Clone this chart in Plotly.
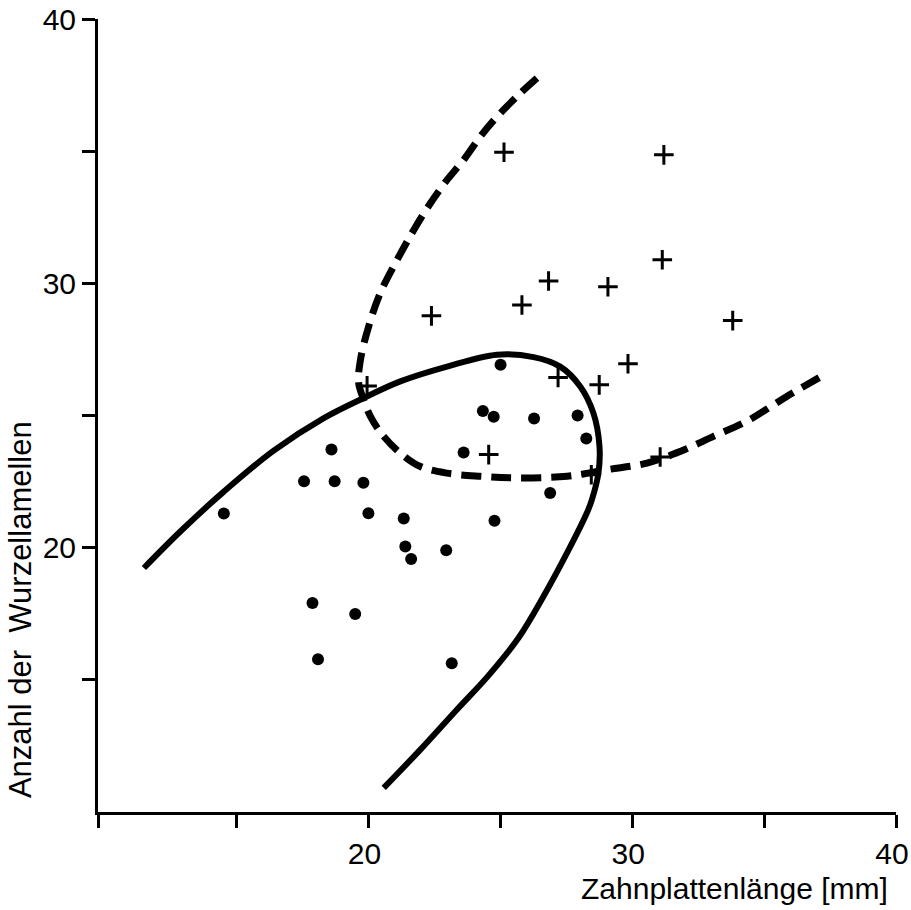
import plotly.graph_objects as go

# --- data ---
dots_x = [14.52, 18.60, 17.56, 18.72, 19.81, 20.00, 21.34, 21.40, 21.62, 22.95,
          17.88, 19.50, 18.09, 23.16, 23.61, 24.34, 24.75, 25.01, 24.78, 26.28,
          27.93, 28.26, 26.89]
dots_y = [21.29, 23.71, 22.51, 22.51, 22.46, 21.30, 21.10, 20.04, 19.57, 19.90,
          17.91, 17.49, 15.78, 15.63, 23.60, 25.17, 24.95, 26.92, 21.02, 24.89,
          25.00, 24.13, 22.07]

plus_x = [25.14, 31.20, 31.14, 26.83, 29.08, 25.82, 22.39, 33.81, 29.84, 27.19,
          28.75, 24.56, 31.06, 19.95, 28.45]
plus_y = [34.96, 34.86, 30.89, 30.09, 29.87, 29.18, 28.77, 28.59, 26.96, 26.44,
          26.16, 23.52, 23.43, 26.12, 22.76]

solid_x = [11.49, 12.88, 14.52, 16.41, 18.31, 19.82, 21.21, 22.98, 24.87, 26.26,
           27.27, 28.03, 28.53, 28.76, 28.72, 28.47, 28.28, 27.53, 26.64, 25.70,
           24.55, 23.36, 21.97, 20.58]
solid_y = [19.23, 20.62, 22.12, 23.67, 24.90, 25.66, 26.29, 26.85, 27.30, 27.21,
           26.85, 26.10, 25.09, 23.83, 22.82, 21.81, 21.31, 19.80, 18.16, 16.60,
           15.16, 13.88, 12.36, 10.91]

dash_x = [26.39, 25.76, 24.88, 24.24, 23.61, 22.98, 22.35, 21.72, 21.09, 20.45,
          20.01, 19.70, 19.63, 19.82, 20.08, 20.58, 21.21, 21.97, 22.98, 24.24,
          25.50, 27.53, 29.04, 30.56, 31.82, 33.08, 34.34, 35.86, 37.38]
dash_y = [37.76, 37.19, 36.31, 35.55, 34.67, 33.91, 33.03, 32.02, 30.89, 29.63,
          28.37, 27.11, 26.23, 25.60, 24.96, 24.21, 23.58, 23.07, 22.82, 22.70,
          22.64, 22.70, 22.95, 23.20, 23.64, 24.21, 24.78, 25.72, 26.60]

x_tickvals = [9.75, 15, 20, 25, 30, 35, 40]
x_ticktext = ["", "", "20", "", "30", "", "40"]
y_tickvals = [15, 20, 25, 30, 35, 40]
y_ticktext = ["", "20", "", "30", "", "40"]

x_title = "Zahnplattenlänge [mm]"
y_title = "Anzahl der  Wurzellamellen"

fig = go.Figure()
fig.add_trace(go.Scatter(x=solid_x, y=solid_y, mode="lines",
                         line=dict(color="black", width=6, shape="spline", smoothing=1.0),
                         hoverinfo="skip", showlegend=False))
fig.add_trace(go.Scatter(x=dash_x, y=dash_y, mode="lines",
                         line=dict(color="black", width=7, dash="20px,10px",
                                   shape="spline", smoothing=1.0),
                         hoverinfo="skip", showlegend=False))
fig.add_trace(go.Scatter(x=dots_x, y=dots_y, mode="markers",
                         marker=dict(symbol="circle", size=12, color="black"),
                         showlegend=False))
fig.add_trace(go.Scatter(x=plus_x, y=plus_y, mode="markers",
                         marker=dict(symbol="cross-thin", size=14, color="black",
                                     line=dict(color="black", width=3)),
                         showlegend=False))

tick_font = dict(family="Liberation Sans, Arial, sans-serif", size=30, color="black")

fig.update_xaxes(range=[9.75, 40], showgrid=False, zeroline=False, automargin=False,
                 showline=True, linewidth=3, linecolor="black",
                 ticks="outside", ticklen=13, tickwidth=2.5, tickcolor="black",
                 tickvals=x_tickvals, ticktext=x_ticktext, tickfont=tick_font,
                 ticklabeloverflow="allow", ticklabelshift=-4)
fig.update_yaxes(range=[10, 40], showgrid=False, zeroline=False, automargin=False,
                 showline=True, linewidth=3, linecolor="black",
                 ticks="outside", ticklen=13, tickwidth=2.5, tickcolor="black",
                 tickvals=y_tickvals, ticktext=y_ticktext, tickfont=tick_font,
                 ticklabeloverflow="allow")

fig.add_annotation(text=x_title, xref="paper", yref="paper", x=0.797, y=-0.097,
                   xanchor="center", yanchor="middle", showarrow=False,
                   font=dict(family="Liberation Sans, Arial, sans-serif",
                             size=30, color="black"))
fig.add_annotation(text=y_title, xref="paper", yref="paper", x=-0.0977, y=0.2547,
                   xanchor="center", yanchor="middle", showarrow=False, textangle=-90,
                   font=dict(family="Liberation Sans, Arial, sans-serif",
                             size=31, color="black"))

fig.update_layout(width=911, height=910, plot_bgcolor="white", paper_bgcolor="white",
                  margin=dict(l=98, r=15, t=19, b=98), hovermode=False)

# remove the default 8px page margin so the figure fills the window exactly
fig.write_html("out.html", config={"displayModeBar": False},
               post_script="document.body.style.margin='0';document.body.style.overflow='hidden';")
